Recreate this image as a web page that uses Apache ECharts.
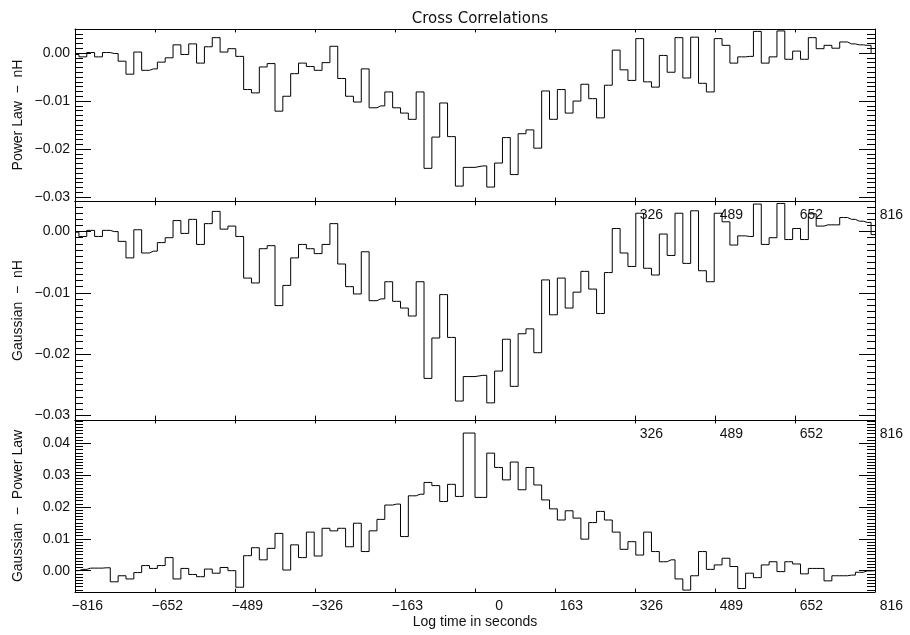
<!DOCTYPE html>
<html>
<head>
<meta charset="utf-8">
<title>Cross Correlations</title>
<script src="https://cdn.jsdelivr.net/npm/echarts@6/dist/echarts.min.js"></script>
<style>
  html, body { margin: 0; padding: 0; background: #ffffff; }
  #chart { width: 910px; height: 635px; }
</style>
</head>
<body>
<div id="chart"></div>
<script>
// Lag grid: 16 s steps from -816 s to 816 s, zero lag not sampled
const lagStep = 16;
const lagCount = 51;
const lags = [];
for (let k = -lagCount; k <= lagCount; k++) {
  if (k !== 0) lags.push(k * lagStep);
}

// Bottom-axis tick labels (seconds)
const tickLabels = ['\u2212816', '\u2212652', '\u2212489', '\u2212326', '\u2212163', '0', '163', '326', '489', '652', '816'];

// Cross correlation: Power Law vs nH
const powerLawNH = [
  -0.0003, -0.0008, 0.0001, -0.0008, 0.0001, -0.0001, -0.0017, -0.0044, 0.0002, -0.0036,
  -0.0033, -0.0019, -0.0010, 0.0017, -0.0003, 0.0019, -0.0021, 0.0013, 0.0032, 0.0002,
  0.0009, -0.0007, -0.0076, -0.0083, -0.0029, -0.0022, -0.0121, -0.0090, -0.0043, -0.0021,
  -0.0028, -0.0036, -0.0020, 0.0014, -0.0053, -0.0090, -0.0102, -0.0033, -0.0114, -0.0110,
  -0.0081, -0.0114, -0.0125, -0.0138, -0.0081, -0.0240, -0.0175, -0.0104, -0.0174, -0.0277,
  -0.0238, -0.0235,
  -0.0279, -0.0229, -0.0176, -0.0253, -0.0168, -0.0160, -0.0198, -0.0079, -0.0138, -0.0076,
  -0.0125, -0.0100, -0.0065, -0.0095, -0.0135, -0.0067, 0.0006, -0.0035, -0.0057, 0.0030,
  -0.0060, -0.0071, -0.0005, -0.0040, 0.0032, -0.0052, 0.0033, -0.0063, -0.0081, 0.0030,
  0.0016, -0.0021, -0.0008, -0.0007, 0.0045, -0.0021, -0.0008, 0.0046, -0.0013, 0.0004,
  -0.0013, 0.0032, 0.0009, 0.0016, 0.0010, 0.0023, 0.0019, 0.0017, 0.0016, -0.0001
];

// Cross correlation: Gaussian vs nH
const gaussianNH = [
  -0.0001, -0.0008, 0.0002, -0.0008, 0.0002, 0.0000, -0.0016, -0.0043, 0.0003, -0.0035,
  -0.0032, -0.0018, -0.0010, 0.0018, -0.0003, 0.0020, -0.0021, 0.0013, 0.0033, 0.0004,
  0.0009, -0.0008, -0.0076, -0.0084, -0.0028, -0.0023, -0.0121, -0.0088, -0.0043, -0.0021,
  -0.0028, -0.0036, -0.0021, 0.0013, -0.0053, -0.0090, -0.0102, -0.0033, -0.0113, -0.0110,
  -0.0082, -0.0114, -0.0125, -0.0138, -0.0082, -0.0240, -0.0174, -0.0103, -0.0173, -0.0277,
  -0.0237, -0.0235,
  -0.0280, -0.0228, -0.0176, -0.0253, -0.0167, -0.0159, -0.0198, -0.0079, -0.0136, -0.0076,
  -0.0125, -0.0099, -0.0065, -0.0094, -0.0134, -0.0067, 0.0005, -0.0035, -0.0057, 0.0030,
  -0.0060, -0.0071, -0.0004, -0.0039, 0.0030, -0.0052, 0.0034, -0.0064, -0.0082, 0.0030,
  0.0016, -0.0022, -0.0007, -0.0008, 0.0045, -0.0021, -0.0010, 0.0046, -0.0013, 0.0005,
  -0.0013, 0.0029, 0.0009, 0.0011, 0.0011, 0.0023, 0.0020, 0.0017, 0.0015, -0.0005
];

// Cross correlation: Gaussian vs Power Law
const gaussianPowerLaw = [
  0.0000, 0.0004, 0.0008, 0.0008, 0.0009, -0.0035, -0.0016, -0.0026, -0.0006, 0.0016,
  0.0007, 0.0016, 0.0041, -0.0026, 0.0007, -0.0012, -0.0019, 0.0005, -0.0008, 0.0010,
  0.0000, -0.0052, 0.0047, 0.0072, 0.0034, 0.0070, 0.0117, 0.0002, 0.0081, 0.0041,
  0.0121, 0.0046, 0.0133, 0.0125, 0.0133, 0.0075, 0.0149, 0.0060, 0.0125, 0.0161,
  0.0206, 0.0209, 0.0107, 0.0235, 0.0240, 0.0277, 0.0267, 0.0217, 0.0271, 0.0233,
  0.0432, 0.0230,
  0.0369, 0.0324, 0.0285, 0.0341, 0.0254, 0.0324, 0.0269, 0.0222, 0.0194, 0.0159,
  0.0188, 0.0165, 0.0099, 0.0151, 0.0186, 0.0159, 0.0121, 0.0067, 0.0091, 0.0049,
  0.0121, 0.0060, 0.0028, 0.0034, -0.0026, -0.0061, -0.0016, 0.0060, 0.0004, 0.0018,
  0.0039, 0.0013, -0.0056, -0.0008, -0.0022, 0.0018, 0.0028, -0.0003, 0.0028, 0.0021,
  -0.0010, 0.0007, 0.0007, -0.0032, -0.0016, -0.0016, -0.0014, -0.0005, -0.0001, 0.0000
];

const yTitles = ['Power Law  \u2212  nH', 'Gaussian  \u2212  nH', 'Gaussian  \u2212  Power Law'];
const xTitle = 'Log time in seconds';
const chartTitle = 'Cross Correlations';

const xMin = -816, xMax = 816, xStep = 163.2;

// Panel layout and value ranges
const panels = [
  { top: 29,  height: 172, yMin: -0.0308, yMax: 0.0050, data: powerLawNH,        firstLabel: 7 },
  { top: 201, height: 219, yMin: -0.0308, yMax: 0.0050, data: gaussianNH,        firstLabel: 7 },
  { top: 420, height: 172, yMin: -0.0067, yMax: 0.0473, data: gaussianPowerLaw,  firstLabel: 0 }
];

const ink = '#000000';
const textColor = '#111111';
const font = 'Liberation Sans';
const frameLine = { color: ink, width: 1 };

function yLabel(v) {
  const s = Math.abs(v) < 1e-9 ? '0.00' : v.toFixed(2);
  return s.replace('-', '\u2212');
}

const grids = [], xAxes = [], yAxes = [], series = [];

panels.forEach((p, i) => {
  grids.push({
    left: 75, width: 800, top: p.top, height: p.height,
    containLabel: false, outerBoundsMode: 'none', show: false
  });

  const xTick = Math.max(3, p.height * 0.02);

  // bottom x axis
  xAxes.push({
    gridIndex: i, type: 'value', position: 'bottom',
    min: xMin, max: xMax, interval: xStep,
    axisLine: { show: true, onZero: false, lineStyle: frameLine },
    axisTick: { show: true, inside: true, length: xTick, lineStyle: frameLine },
    splitLine: { show: false },
    axisLabel: {
      show: true, interval: 0, margin: 7, showMinLabel: true, showMaxLabel: true,
      color: textColor, fontFamily: font, fontSize: 14,
      formatter: (v) => {
        const idx = Math.round((v - xMin) / xStep);
        if (idx < p.firstLabel) return '';
        return '{r|' + tickLabels[idx] + '}';
      },
      rich: { r: { width: 56, align: 'right', color: textColor, fontFamily: font, fontSize: 14 } }
    },
    name: i === 2 ? xTitle : '',
    nameLocation: 'middle', nameGap: 23, nameMoveOverlap: false,
    nameTextStyle: { color: textColor, fontFamily: font, fontSize: 14 }
  });
  // top x axis (ticks only)
  xAxes.push({
    gridIndex: i, type: 'value', position: 'top',
    min: xMin, max: xMax, interval: xStep,
    axisLine: { show: true, onZero: false, lineStyle: frameLine },
    axisTick: { show: true, inside: true, length: xTick, lineStyle: frameLine },
    axisLabel: { show: false },
    splitLine: { show: false }
  });

  const yCommon = {
    gridIndex: i, type: 'value', min: p.yMin, max: p.yMax, splitNumber: 4,
    axisLine: { show: true, onZero: false, lineStyle: frameLine },
    axisTick: { show: true, inside: true, length: 16, lineStyle: frameLine },
    minorTick: { show: true, splitNumber: 10, length: 8, lineStyle: frameLine },
    splitLine: { show: false },
    minorSplitLine: { show: false }
  };
  // left y axis with labels and title
  yAxes.push(Object.assign({}, yCommon, {
    position: 'left',
    axisLabel: {
      show: true, margin: 5, showMinLabel: false, showMaxLabel: false,
      color: textColor, fontFamily: font, fontSize: 14, formatter: yLabel
    },
    name: yTitles[i], nameLocation: 'middle', nameGap: 50, nameMoveOverlap: false,
    nameTextStyle: { color: textColor, fontFamily: font, fontSize: 14 }
  }));
  // right y axis (ticks only)
  yAxes.push(Object.assign({}, yCommon, {
    position: 'right',
    axisLabel: { show: false }
  }));

  series.push({
    type: 'line',
    xAxisIndex: 2 * i, yAxisIndex: 2 * i,
    step: 'middle',
    showSymbol: false, symbol: 'none',
    clip: true,
    lineStyle: { color: ink, width: 1 },
    data: lags.map((lag, j) => [lag, p.data[j]])
  });
});

const chart = echarts.init(document.getElementById('chart'), null, { renderer: 'canvas' });
chart.setOption({
  animation: false,
  backgroundColor: '#ffffff',
  title: {
    text: chartTitle, left: 475, top: 7, textAlign: 'center',
    textStyle: { color: textColor, fontFamily: 'DejaVu Sans', fontSize: 15, fontWeight: 'normal' }
  },
  grid: grids,
  xAxis: xAxes,
  yAxis: yAxes,
  series: series
});
</script>
</body>
</html>
